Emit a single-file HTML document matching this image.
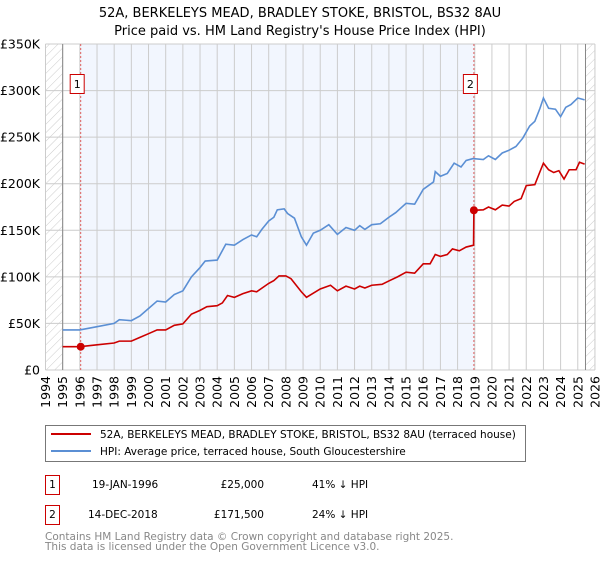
<!DOCTYPE html>
<html><head><meta charset="utf-8"><style>
body{margin:0;background:#fff;font-family:"DejaVu Sans","Liberation Sans",sans-serif;}
svg text{font-family:"DejaVu Sans","Liberation Sans",sans-serif;}
</style></head><body>
<svg id="chart" width="600" height="560" xmlns="http://www.w3.org/2000/svg">
<defs><pattern id="hatch" width="6" height="6" patternUnits="userSpaceOnUse" patternTransform="rotate(45)"><line x1="0" y1="0" x2="0" y2="6" stroke="#ccc" stroke-width="1"/></pattern></defs>
<text x="300" y="17" text-anchor="middle" font-size="13">52A, BERKELEYS MEAD, BRADLEY STOKE, BRISTOL, BS32 8AU</text>
<text x="300" y="35" text-anchor="middle" font-size="13">Price paid vs. HM Land Registry's House Price Index (HPI)</text>
<g id="plot"></g>
<rect x="45.5" y="425.5" width="480" height="36" fill="#fff" stroke="#777"/>
<line x1="51" y1="434" x2="91" y2="434" stroke="#cc0000" stroke-width="2"/>
<text x="100" y="438" font-size="10.5">52A, BERKELEYS MEAD, BRADLEY STOKE, BRISTOL, BS32 8AU (terraced house)</text>
<line x1="51" y1="451" x2="91" y2="451" stroke="#5b8fd4" stroke-width="2"/>
<text x="100" y="455" font-size="10.5">HPI: Average price, terraced house, South Gloucestershire</text>
<g font-size="10.5">
<rect x="45.5" y="475.5" width="14" height="19" fill="#fff" stroke="#cc0000"/><text x="52.5" y="488" text-anchor="middle">1</text>
<text x="92" y="488">19-JAN-1996</text><text x="264" y="488" text-anchor="end">£25,000</text><text x="312" y="488">41% ↓ HPI</text></g>
<g font-size="10.5">
<rect x="45.5" y="505.5" width="14" height="19" fill="#fff" stroke="#cc0000"/><text x="52.5" y="518" text-anchor="middle">2</text>
<text x="88" y="518">14-DEC-2018</text><text x="264" y="518" text-anchor="end">£171,500</text><text x="312" y="518">24% ↓ HPI</text></g>
<text x="45" y="540" font-size="10.5" fill="#888">Contains HM Land Registry data © Crown copyright and database right 2025.</text>
<text x="45" y="550" font-size="10.5" fill="#888">This data is licensed under the Open Government Licence v3.0.</text>
</svg>
<script>
const yTicks=[0,50,100,150,200,250,300,350];
const yTickLabels=["£0","£50K","£100K","£150K","£200K","£250K","£300K","£350K"];
const xYears=[1994,1995,1996,1997,1998,1999,2000,2001,2002,2003,2004,2005,2006,2007,2008,2009,2010,2011,2012,2013,2014,2015,2016,2017,2018,2019,2020,2021,2022,2023,2024,2025,2026];
const hpiT=[1995,1996,1997,1998,1998.3,1999,1999.5,2000,2000.5,2001,2001.5,2002,2002.5,2003,2003.3,2004,2004.5,2005,2005.5,2006,2006.3,2006.6,2007,2007.3,2007.5,2007.9,2008.1,2008.5,2008.9,2009.2,2009.6,2010,2010.5,2011,2011.5,2012,2012.3,2012.6,2013,2013.5,2014,2014.4,2015,2015.5,2016,2016.6,2016.7,2017,2017.4,2017.8,2018.2,2018.5,2018.9,2019.5,2019.8,2020.2,2020.6,2021,2021.4,2021.8,2022.2,2022.5,2022.8,2023,2023.3,2023.7,2024,2024.3,2024.6,2025,2025.4];
const hpiV=[43,43,46.5,50,54,53,58,66,74,73,81,85,100,110,117,118,135,134,140,145,143,151,160,164,172,173,168,163,143,134,147,150,156,145.6,153,150,155,151,156,157,164,169,179,178,194,202,213,208,211,222,218,225,227,226,230,226,233,236,240,249,262,267,281,292,281,280,272,282,285,292,290];
const priceT=[1995,1996,1997,1998,1998.3,1999,1999.5,2000,2000.5,2001,2001.5,2002,2002.5,2003,2003.4,2004,2004.3,2004.6,2005,2005.5,2006,2006.3,2007,2007.3,2007.6,2008,2008.3,2008.9,2009.2,2010,2010.6,2011,2011.5,2012,2012.3,2012.6,2013,2013.6,2014,2014.5,2015,2015.5,2016,2016.4,2016.7,2017,2017.4,2017.7,2018.1,2018.5,2018.93,2018.95,2019.5,2019.8,2020.2,2020.6,2021,2021.3,2021.7,2022,2022.5,2022.8,2023,2023.3,2023.6,2023.9,2024.2,2024.5,2024.9,2025.1,2025.4];
const priceV=[25,25,27,29,31,31,35,39,43,43,48,49.5,60,64,68,69,72,80,78,82,85,84,93,96,101,101,98,84,78,87,91,85,90,87,90,88,91,92,95.6,100,105,104,114,114,124,122,124,130,128,132,134,171.5,172,175,172,177,176,181,184,198,199,213,222,215,212,214,205,215,215,223,221];
const saleT=[1996.05,2018.95];
const saleV=[25,171.5];
const saleLabels=["1","2"];
const X=t=>45.5+(t-1994)*17.17;
const Y=v=>370-v*0.9314;
const NS="http://www.w3.org/2000/svg";
const g=document.getElementById('plot');
function mk(tag,attrs){const e=document.createElementNS(NS,tag);for(const k in attrs)e.setAttribute(k,attrs[k]);g.appendChild(e);return e;}
let e;
e=mk('rect',{x:X(1994),y:Y(350),width:X(1995)-X(1994),height:Y(0)-Y(350),fill:'url(#hatch)'});


e=mk('rect',{x:X(2025.45),y:Y(350),width:X(2026)-X(2025.45),height:Y(0)-Y(350),fill:'url(#hatch)'});


e=mk('rect',{x:X(1996.05),y:Y(350),width:X(2018.95)-X(1996.05),height:Y(0)-Y(350),fill:'#f2f6fe'});


yTicks.forEach((v,i)=>{
 e=mk('line',{x1:X(1994),x2:X(2026),y1:Y(v),y2:Y(v),stroke:'#ccc'});
 
 
 e=mk('text',{x:40,y:Y(v)+4.5,'text-anchor':'end','font-size':'12.5'});e.textContent=yTickLabels[i];
 
 
});
xYears.forEach(yr=>{
 e=mk('line',{x1:X(yr),x2:X(yr),y1:Y(350),y2:Y(0),stroke:'#ccc'});
 
 
 e=mk('text',{x:0,y:0,'font-size':'12.5','text-anchor':'end',transform:`translate(${X(yr)+4.5},376) rotate(-90)`});e.textContent=yr;
 
 
});
e=mk('line',{x1:X(1995),x2:X(1995),y1:Y(350),y2:Y(0),stroke:'#888'});


e=mk('line',{x1:X(2025.45),x2:X(2025.45),y1:Y(350),y2:Y(0),stroke:'#888'});


saleT.forEach((t,i)=>{
 e=mk('line',{x1:X(t),x2:X(t),y1:Y(350),y2:Y(0),stroke:'#e06060','stroke-dasharray':'2,2'});
 
 
 e=mk('rect',{x:X(t)-10.5,y:74.5,width:14,height:19,fill:'#fff',stroke:'#cc0000'});
 
 
 e=mk('text',{x:X(t)-3.5,y:88,'text-anchor':'middle','font-size':'11'});e.textContent=saleLabels[i];
 
 
});
e=mk('polyline',{points:hpiT.map((t,i)=>X(t)+','+Y(hpiV[i])).join(' '),fill:'none',stroke:'#5b8fd4','stroke-width':1.6});


e=mk('polyline',{points:priceT.map((t,i)=>X(t)+','+Y(priceV[i])).join(' '),fill:'none',stroke:'#cc0000','stroke-width':1.6});


saleT.forEach((t,i)=>{
 e=mk('circle',{cx:X(t),cy:Y(saleV[i]),r:4,fill:'#cc0000'});
 
 
});
</script>
</body></html>
